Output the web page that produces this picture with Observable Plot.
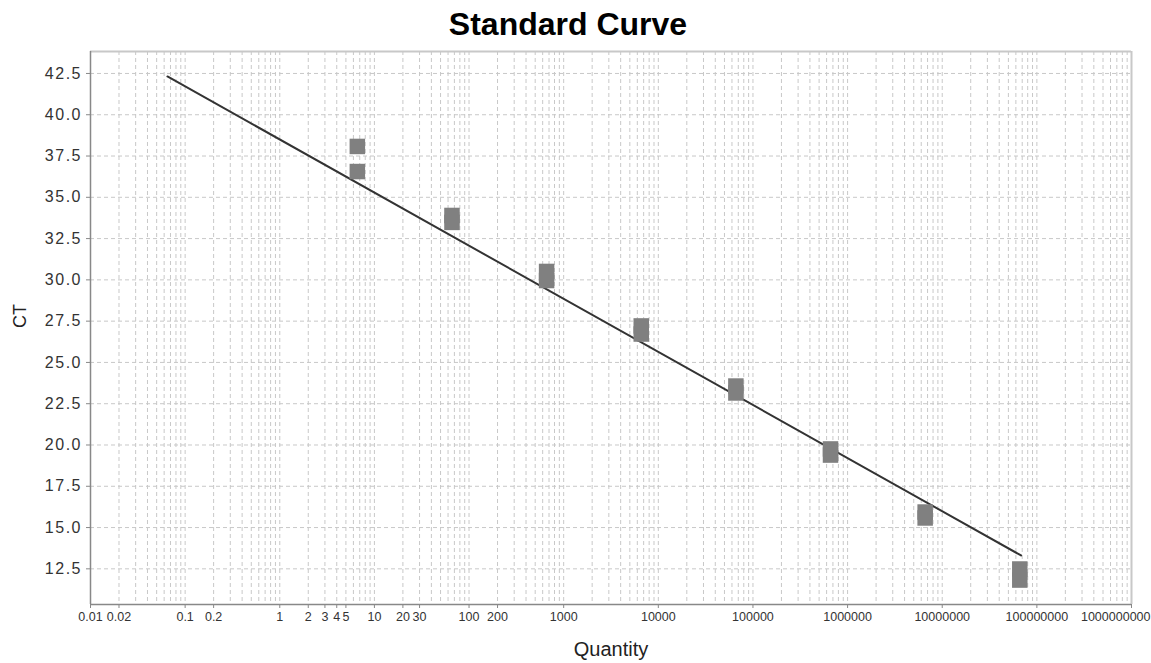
<!DOCTYPE html>
<html><head><meta charset="utf-8">
<script src="https://cdn.jsdelivr.net/npm/d3@7"></script>
<script src="https://cdn.jsdelivr.net/npm/@observablehq/plot@0.6"></script>
<style>
html,body{margin:0;padding:0;background:#fff;overflow:hidden;}
#chart svg{display:block;}
g[aria-label="y-axis tick label"] text{letter-spacing:1.5px;}
</style></head><body><div id="chart"></div>
<script>
const chartTitle = "Standard Curve";
const xLabel = "Quantity";
const yLabel = "CT";

// Standard dilution quantities and two replicate Ct readings each
const quantities = [6.6, 66, 660, 6600, 66000, 660000, 6600000, 66000000];
const ctRep1 = [38.08, 33.90, 30.51, 27.21, 23.57, 19.76, 15.94, 12.49];
const ctRep2 = [36.56, 33.48, 29.96, 26.72, 23.15, 19.39, 15.58, 11.82];

// regression line end points
const fitQuantity = [0.065, 68000000];
const fitCt = [42.32, 13.31];

const xDomain = [0.01, 1e9];
const yDomain = [10.34, 43.83];

const xTicks = [0.01, 0.02, 0.1, 0.2, 1, 2, 3, 4, 5, 10, 20, 30, 100, 200, 1000, 10000, 100000, 1000000, 10000000, 100000000, 1000000000];
const xTickLabels = ["0.01", "0.02", "0.1", "0.2", "1", "2", "3", "4", "5", "10", "20", "30", "100", "200", "1000", "10000", "100000", "1000000", "10000000", "100000000", "1000000000"];
const yTicks = [12.5, 15, 17.5, 20, 22.5, 25, 27.5, 30, 32.5, 35, 37.5, 40, 42.5];
const yTickLabels = ["12.5", "15.0", "17.5", "20.0", "22.5", "25.0", "27.5", "30.0", "32.5", "35.0", "37.5", "40.0", "42.5"];

const rows = quantities.flatMap((q, i) => [{q, ct: ctRep1[i]}, {q, ct: ctRep2[i]}]);
const fit = fitQuantity.map((q, i) => ({q, ct: fitCt[i]}));

// minor log grid positions (1..9 x each decade)
const gridX = [];
for (let e = -2; e <= 8; e++) for (let k = 1; k <= 9; k++) gridX.push(+(k * Math.pow(10, e)).toPrecision(6));
gridX.push(1e9);

const gridStyle = {stroke: "#c8c8c8", strokeOpacity: 1, strokeDasharray: "4,3", strokeWidth: 1};
const lastTick = xTicks[xTicks.length - 1];

const plot = Plot.plot({
  width: 1151, height: 663,
  marginLeft: 90, marginRight: 20, marginTop: 51, marginBottom: 59,
  style: {fontFamily: "'Liberation Sans', Arial, sans-serif", background: "#fff", color: "#333"},
  x: {type: "log", domain: xDomain},
  y: {domain: yDomain},
  marks: [
    Plot.gridX(gridX, gridStyle),
    Plot.gridY(yTicks, gridStyle),
    Plot.ruleY([yDomain[1]], {stroke: "#c8c8c8", strokeWidth: 2}),
    Plot.ruleX([xDomain[1]], {stroke: "#c8c8c8", strokeWidth: 2}),
    Plot.ruleX([xDomain[0]], {stroke: "#888", strokeWidth: 1.5}),
    Plot.ruleY([yDomain[0]], {stroke: "#888", strokeWidth: 1.5}),
    Plot.axisX(xTicks, {tickSize: 4, tickPadding: 4, stroke: "#888", fill: "#333", fontSize: 12.5,
      tickFormat: d => d === lastTick ? "" : xTickLabels[xTicks.indexOf(d)], label: null}),
    Plot.text([lastTick], {x: d => d, frameAnchor: "bottom", dy: 8, dx: 19, lineAnchor: "top", textAnchor: "end",
      text: d => xTickLabels[xTicks.indexOf(d)], fontSize: 12.5, fill: "#333"}),
    Plot.axisY(yTicks, {tickSize: 4, tickPadding: 4.5, stroke: "#888", fill: "#333", fontSize: 16,
      tickFormat: d => yTickLabels[yTicks.indexOf(d)], label: null}),
    Plot.line(fit, {x: "q", y: "ct", stroke: "#333", strokeWidth: 2}),
    Plot.dot(rows, {x: "q", y: "ct", symbol: "square", r: 8.75, fill: "#808080", stroke: null}),
    Plot.text([chartTitle], {frameAnchor: "top", dx: -43, dy: -17, lineAnchor: "bottom", fontSize: 32, fontWeight: "bold", fill: "#000"}),
    Plot.text([xLabel], {frameAnchor: "bottom", dy: 51, lineAnchor: "bottom", fontSize: 20, fill: "#222"}),
    Plot.text([yLabel], {frameAnchor: "left", dx: -70, rotate: -90, fontSize: 18, fill: "#222"})
  ]
});
document.getElementById("chart").appendChild(plot);
</script></body></html>
